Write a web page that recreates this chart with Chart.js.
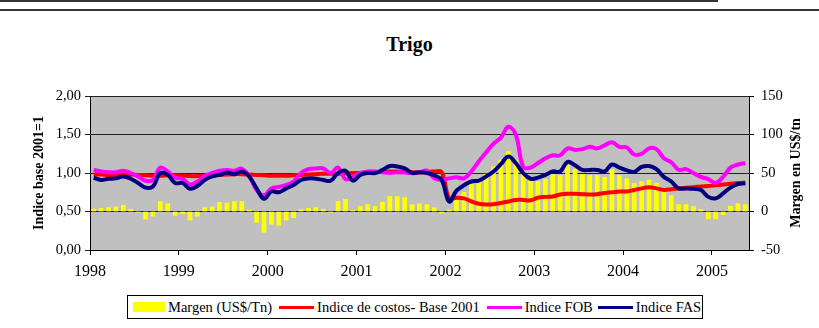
<!DOCTYPE html>
<html>
<head>
<meta charset="utf-8">
<script src="https://cdn.jsdelivr.net/npm/chart.js@4/dist/chart.umd.min.js"></script>
<style>
  body { margin: 0; background: #fff; }
  #wrap { position: relative; width: 819px; height: 328px; overflow: hidden; font-family: "Liberation Serif", "Times New Roman", serif; }
  #topRule { position: absolute; left: 0; top: 0; width: 718px; height: 1px; border-top: 2px solid #333; }
  #pageRule { position: absolute; left: 0; top: 9px; width: 819px; height: 0; border-top: 2px solid #333; }
  #title { position: absolute; left: 0; width: 819px; top: 33px; text-align: center; font-weight: bold; font-size: 20px; }
  #legend { position: absolute; left: 127px; top: 295px; width: 574px; height: 22px; border: 1px solid #000; background: #fff;
            display: flex; align-items: center; font-size: 14.5px; white-space: nowrap; }
  #legend .sw { display: inline-block; margin-right: 3px; }
  #legend .item { display: flex; align-items: center; margin-left: 5px; }
  #legend .box { width: 32px; height: 10px; background: #ffff00; }
  #legend .ln { width: 35px; height: 3px; }
  canvas { position: absolute; left: 0; top: 0; }
</style>
</head>
<body>
<div id="wrap">
  <div id="topRule"></div>
  <div id="pageRule"></div>
  <div id="title">Trigo</div>
  <canvas id="trigoChart" width="819" height="328"></canvas>
  <div id="legend">
    <div class="item"><span class="sw box"></span>Margen (US$/Tn)</div>
    <div class="item" style="margin-left:7px"><span class="sw ln" style="background:#ff0000"></span>Indice de costos- Base 2001</div>
    <div class="item" style="margin-left:7px"><span class="sw ln" style="background:#ff00ff"></span>Indice FOB</div>
    <div class="item" style="margin-left:5px"><span class="sw ln" style="background:#000080"></span>Indice FAS</div>
  </div>
</div>
<script>
// monthly series, Jan 1998 .. May 2005
const firstYear = 1998;
const yearTicks = [1998, 1999, 2000, 2001, 2002, 2003, 2004, 2005];

// margin in US$/tn (right axis)
const margen = [
  3, 4, 5, 6, 8, 3, -1, -10, -6, 13, 10, -5,
  -3, -11, -6, 5, 6, 12, 11, 13, 13, 2, -14, -27,
  -16.5, -18, -11, -8, 2.5, 4, 5, 3, -1, 13, 16, 1.5,
  6.5, 9, 6.5, 12, 19.5, 19.5, 18, 9, 10, 9, 5, -2,
  2, 16.5, 25, 35.5, 40, 48.5, 58, 66.7, 78, 67, 52, 44,
  39, 42, 48, 47, 60, 55, 48, 47, 47, 44.5, 54.5, 47,
  42.5, 36.5, 39, 41, 36.5, 29, 20.5, 9, 9, 6.5, 2.8, -9.5,
  -9.5, -4, 6.8, 10.2, 9
];

// cost index, base 2001 = 1
const costos = [
  0.98, 0.98, 0.975, 0.975, 0.98, 0.98, 0.975, 0.97, 0.965, 0.965, 0.97, 0.97,
  0.965, 0.96, 0.96, 0.965, 0.97, 0.975, 0.98, 0.985, 0.985, 0.98, 0.975, 0.97,
  0.965, 0.965, 0.965, 0.97, 0.975, 0.98, 0.985, 0.99, 0.99, 0.99, 0.995, 1.0,
  1.0, 1.005, 1.01, 1.015, 1.02, 1.02, 1.015, 1.01, 1.01, 1.015, 1.02, 1.01,
  0.67, 0.68, 0.67, 0.63, 0.60, 0.59, 0.595, 0.61, 0.63, 0.65, 0.65, 0.645,
  0.68, 0.69, 0.695, 0.72, 0.73, 0.73, 0.725, 0.72, 0.725, 0.74, 0.75, 0.76,
  0.76, 0.78, 0.80, 0.815, 0.80, 0.78, 0.79, 0.80, 0.81, 0.815, 0.825, 0.83,
  0.84, 0.85, 0.86, 0.87, 0.875
];

const fob = [
  1.04, 1.02, 1.01, 1.01, 1.03, 1.0, 0.955, 0.90, 0.91, 1.07, 1.02, 0.94,
  0.925, 0.85, 0.89, 0.96, 1.0, 1.03, 1.04, 1.03, 1.055, 0.96, 0.78, 0.71,
  0.80, 0.82, 0.845, 0.89, 1.0, 1.05, 1.06, 1.06, 1.0, 1.07, 0.92, 0.95,
  1.0, 1.02, 1.02, 1.01, 1.0, 1.01, 1.005, 1.0, 1.01, 1.03, 0.93, 0.91,
  0.93, 0.945, 0.93, 1.02, 1.15, 1.27, 1.38, 1.46, 1.60, 1.50, 1.08, 1.07,
  1.13, 1.19, 1.23, 1.23, 1.32, 1.30, 1.31, 1.34, 1.32, 1.36, 1.40, 1.34,
  1.33, 1.24, 1.25, 1.32, 1.31, 1.19, 1.14, 1.04, 1.05, 1.0, 0.95, 0.92,
  0.87, 0.95, 1.07, 1.11, 1.13
];

const fas = [
  0.94, 0.91, 0.925, 0.93, 0.955, 0.925, 0.87, 0.81, 0.825, 1.0, 0.975, 0.87,
  0.87, 0.795, 0.83, 0.91, 0.955, 0.975, 1.005, 0.985, 1.02, 0.955, 0.80, 0.665,
  0.76, 0.75, 0.80, 0.845, 0.91, 0.93, 0.925, 0.91, 0.90, 1.0, 1.03, 0.90,
  0.975, 1.0, 1.0, 1.04, 1.09, 1.085, 1.06, 1.0, 1.01, 1.0, 0.97, 0.91,
  0.63, 0.77, 0.84, 0.89, 0.90, 0.955, 1.02, 1.115, 1.215, 1.13, 1.0, 0.925,
  0.94, 0.975, 1.02, 1.02, 1.145, 1.10, 1.04, 1.04, 1.04, 1.02, 1.11, 1.07,
  1.035, 1.015, 1.08, 1.09, 1.05, 0.95, 0.89, 0.80, 0.80, 0.795, 0.78, 0.69,
  0.67, 0.735, 0.81, 0.857, 0.866
];

// each month sits in the middle of its slot on a linear month axis
const toPoints = arr => arr.map((v, i) => ({ x: i + 0.5, y: v }));

const serif = "'Liberation Serif', 'Times New Roman', serif";

const plotBackground = {
  id: 'plotBackground',
  beforeDraw(chart) {
    const { ctx, chartArea } = chart;
    ctx.save();
    ctx.fillStyle = '#c0c0c0';
    ctx.fillRect(chartArea.left, chartArea.top, chartArea.right - chartArea.left, chartArea.bottom - chartArea.top);
    ctx.restore();
  }
};

// right axis title, read bottom-to-top like the left one
const rightTitle = {
  id: 'rightTitle',
  afterDraw(chart) {
    const { ctx, chartArea } = chart;
    ctx.save();
    ctx.translate(796, (chartArea.top + chartArea.bottom) / 2);
    ctx.rotate(-Math.PI / 2);
    ctx.font = 'bold 14px ' + serif;
    ctx.fillStyle = '#000';
    ctx.textAlign = 'center';
    ctx.textBaseline = 'middle';
    ctx.fillText('Margen en US$/tn', 0, 0);
    ctx.restore();
  }
};

const lineStyle = color => ({
  type: 'line',
  borderColor: color,
  backgroundColor: color,
  borderWidth: 4,
  pointRadius: 0,
  tension: 0.4,
  fill: false,
  yAxisID: 'y'
});

new Chart(document.getElementById('trigoChart'), {
  data: {
    datasets: [
      {
        type: 'bar',
        label: 'Margen (US$/Tn)',
        data: toPoints(margen),
        backgroundColor: '#ffff00',
        barThickness: 4,
        yAxisID: 'y1',
        order: 4
      },
      { ...lineStyle('#ff0000'), label: 'Indice de costos- Base 2001', data: toPoints(costos), order: 3 },
      { ...lineStyle('#ff00ff'), label: 'Indice FOB', data: toPoints(fob), order: 2 },
      { ...lineStyle('#000080'), label: 'Indice FAS', data: toPoints(fas), order: 1 }
    ]
  },
  options: {
    responsive: false,
    animation: false,
    layout: { padding: { top: 96, bottom: 48, left: 0, right: 0 } },
    plugins: {
      legend: { display: false },
      tooltip: { enabled: false }
    },
    scales: {
      x: {
        type: 'linear',
        min: 0,
        max: margen.length,
        offset: false,
        afterBuildTicks: scale => {
          scale.ticks = yearTicks.map(y => ({ value: (y - firstYear) * 12 }));
        },
        afterFit: scale => { scale.height = 30; },
        ticks: {
          autoSkip: false,
          maxRotation: 0,
          padding: 7,
          color: '#000',
          font: { family: serif, size: 16 },
          callback: v => firstYear + v / 12
        },
        grid: { offset: false, drawOnChartArea: false, drawTicks: true, tickLength: 5, color: '#000' },
        border: { display: true, color: '#000', width: 1 }
      },
      y: {
        position: 'left',
        min: 0,
        max: 2,
        afterFit: scale => { scale.width = 90; },
        ticks: {
          stepSize: 0.5,
          padding: 4,
          color: '#000',
          font: { family: serif, size: 14.5 },
          callback: v => v.toFixed(2).replace('.', ',')
        },
        grid: { color: '#222', lineWidth: 1, tickLength: 5 },
        border: { display: true, color: '#000', width: 1 },
        title: {
          display: true,
          text: 'Indice base 2001=1',
          color: '#000',
          font: { family: serif, size: 14, weight: 'bold' },
          padding: { top: 31, bottom: 0 }
        }
      },
      y1: {
        position: 'right',
        min: -50,
        max: 150,
        afterFit: scale => { scale.width = 70; },
        ticks: {
          stepSize: 50,
          padding: 7,
          color: '#000',
          font: { family: serif, size: 14.5 }
        },
        grid: { drawOnChartArea: false, color: '#000', tickLength: 5 },
        border: { display: true, color: '#000', width: 1 }
      }
    }
  },
  plugins: [plotBackground, rightTitle]
});
</script>
</body>
</html>
